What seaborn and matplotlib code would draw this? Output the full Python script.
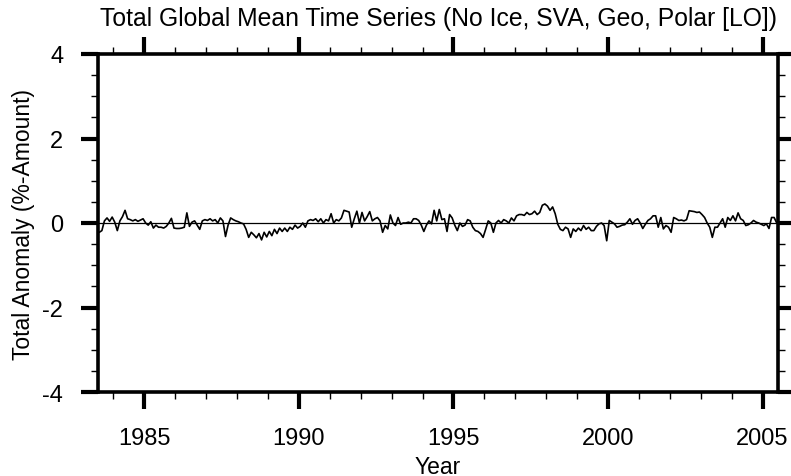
import numpy as np
import pandas as pd
import matplotlib
matplotlib.use("Agg")
import matplotlib.pyplot as plt
from matplotlib.ticker import MultipleLocator
import seaborn as sns

# Monthly total cloud amount anomaly (%), July 1983 - June 2005, one row per Jul-Jun year
anom_1983 = [-0.22, -0.18, 0.05, 0.12, 0.04, 0.14, 0.02, -0.18, 0.05, 0.15, 0.30, 0.10]
anom_1984 = [0.08, 0.05, 0.08, 0.04, 0.07, 0.10, 0.00, -0.05, 0.03, -0.12, -0.05, -0.10]
anom_1985 = [-0.10, -0.12, -0.08, 0.00, 0.11, -0.12, -0.13, -0.13, -0.12, -0.10, 0.24, -0.08]
anom_1986 = [0.02, 0.05, -0.05, -0.15, 0.05, 0.08, 0.06, 0.10, 0.05, 0.08, 0.00, 0.12]
anom_1987 = [0.05, -0.32, -0.05, 0.12, 0.08, 0.05, 0.03, 0.00, -0.02, -0.15, -0.34, -0.22]
anom_1988 = [-0.28, -0.35, -0.25, -0.40, -0.22, -0.33, -0.20, -0.30, -0.15, -0.25, -0.12, -0.20]
anom_1989 = [-0.12, -0.20, -0.10, -0.15, -0.05, -0.12, -0.08, 0.00, -0.10, 0.05, 0.08, 0.06]
anom_1990 = [0.10, 0.03, 0.10, 0.00, 0.08, 0.05, 0.22, 0.00, 0.08, 0.05, 0.12, 0.30]
anom_1991 = [0.28, 0.26, -0.10, 0.10, 0.28, 0.00, 0.25, 0.05, 0.15, 0.27, 0.05, 0.10]
anom_1992 = [0.13, 0.05, -0.22, -0.06, -0.14, 0.19, 0.00, -0.06, 0.13, -0.03, 0.00, 0.00]
anom_1993 = [0.02, 0.00, 0.10, 0.10, 0.06, -0.05, -0.20, -0.05, 0.05, -0.02, 0.30, 0.05]
anom_1994 = [0.32, 0.08, 0.10, -0.20, 0.20, 0.12, -0.05, -0.18, 0.00, -0.08, -0.05, 0.08]
anom_1995 = [0.05, -0.10, -0.18, -0.20, -0.25, -0.34, -0.15, 0.05, 0.00, -0.22, 0.00, 0.06]
anom_1996 = [0.00, 0.08, 0.05, 0.00, 0.12, 0.05, 0.17, 0.20, 0.20, 0.18, 0.25, 0.20]
anom_1997 = [0.22, 0.28, 0.20, 0.25, 0.42, 0.45, 0.40, 0.30, 0.38, 0.22, -0.03, -0.15]
anom_1998 = [-0.18, -0.10, -0.14, -0.34, -0.14, -0.20, -0.12, -0.18, -0.06, -0.15, -0.10, -0.18]
anom_1999 = [-0.18, -0.08, -0.02, 0.00, -0.06, -0.42, 0.06, 0.02, -0.02, -0.10, -0.08, -0.05]
anom_2000 = [-0.04, 0.02, 0.10, -0.03, 0.06, 0.10, 0.00, -0.13, -0.03, 0.06, 0.10, 0.17]
anom_2001 = [0.17, -0.10, 0.13, -0.14, -0.06, -0.10, -0.22, 0.13, 0.10, 0.06, 0.07, 0.05]
anom_2002 = [0.08, 0.29, 0.28, 0.27, 0.25, 0.26, 0.20, 0.13, 0.00, -0.10, -0.34, -0.10]
anom_2003 = [-0.10, 0.00, 0.10, -0.10, 0.13, 0.06, 0.17, 0.05, 0.24, 0.10, 0.06, -0.06]
anom_2004 = [-0.04, 0.00, 0.06, 0.02, 0.00, -0.03, -0.06, -0.02, -0.13, 0.13, 0.13, 0.00]

anomaly = np.concatenate([
    anom_1983, anom_1984, anom_1985, anom_1986, anom_1987, anom_1988,
    anom_1989, anom_1990, anom_1991, anom_1992, anom_1993, anom_1994,
    anom_1995, anom_1996, anom_1997, anom_1998, anom_1999, anom_2000,
    anom_2001, anom_2002, anom_2003, anom_2004,
])

# Mid-month positions on a decimal-year axis
months = pd.date_range("1983-07-01", periods=len(anomaly), freq="MS")
year = months.year + (months.month - 0.5) / 12.0

x_ticks = [1985, 1990, 1995, 2000, 2005]
y_ticks = [4, 2, 0, -2, -4]

title = "Total Global Mean Time Series (No Ice, SVA, Geo, Polar [LO])"
x_title = "Year"
y_title = "Total Anomaly (%-Amount)"

sns.set_theme(style="ticks")
plt.rcParams["font.family"] = ["Liberation Sans", "DejaVu Sans"]
plt.rcParams["axes.unicode_minus"] = False
plt.rcParams["axes.edgecolor"] = "black"
plt.rcParams["xtick.color"] = "black"
plt.rcParams["ytick.color"] = "black"
plt.rcParams["text.color"] = "black"
plt.rcParams["axes.labelcolor"] = "black"

fig = plt.figure(figsize=(7.91, 4.77), dpi=100)
ax = fig.add_axes([98 / 791, 1 - 393 / 477, 680 / 791, 338 / 477])

df = pd.DataFrame({"year": year, "anomaly": anomaly})
ax.axhline(0, color="black", lw=0.9, zorder=1)
sns.lineplot(data=df, x="year", y="anomaly", color="black", lw=1.2, ax=ax, zorder=2)

ax.set_xlim(1983.5, 2005.5)
ax.set_ylim(-4, 4)
ax.set_xticks(x_ticks)
ax.set_xticklabels([str(t) for t in x_ticks])
ax.set_yticks(y_ticks)
ax.set_yticklabels([str(t) for t in y_ticks])
ax.xaxis.set_minor_locator(MultipleLocator(1))
ax.yaxis.set_minor_locator(MultipleLocator(0.5))

for side in ["left", "right", "top", "bottom"]:
    ax.spines[side].set_visible(True)
    ax.spines[side].set_linewidth(2.6)
    ax.spines[side].set_color("black")

ax.tick_params(which="both", direction="out", top=True, right=True,
               labeltop=False, labelright=False)
ax.tick_params(which="major", length=12, width=3.0, labelsize=17, pad=13)
ax.tick_params(which="minor", length=5, width=1.0)

ax.set_title(title, fontsize=17.8, pad=21)
ax.set_xlabel(x_title, fontsize=16.5)
ax.set_ylabel(y_title, fontsize=16.5)
ax.xaxis.set_label_coords(0.5, -0.185)
ax.yaxis.set_label_coords(-0.092, 0.5)

fig.savefig("out.png", dpi=100, facecolor="white")
